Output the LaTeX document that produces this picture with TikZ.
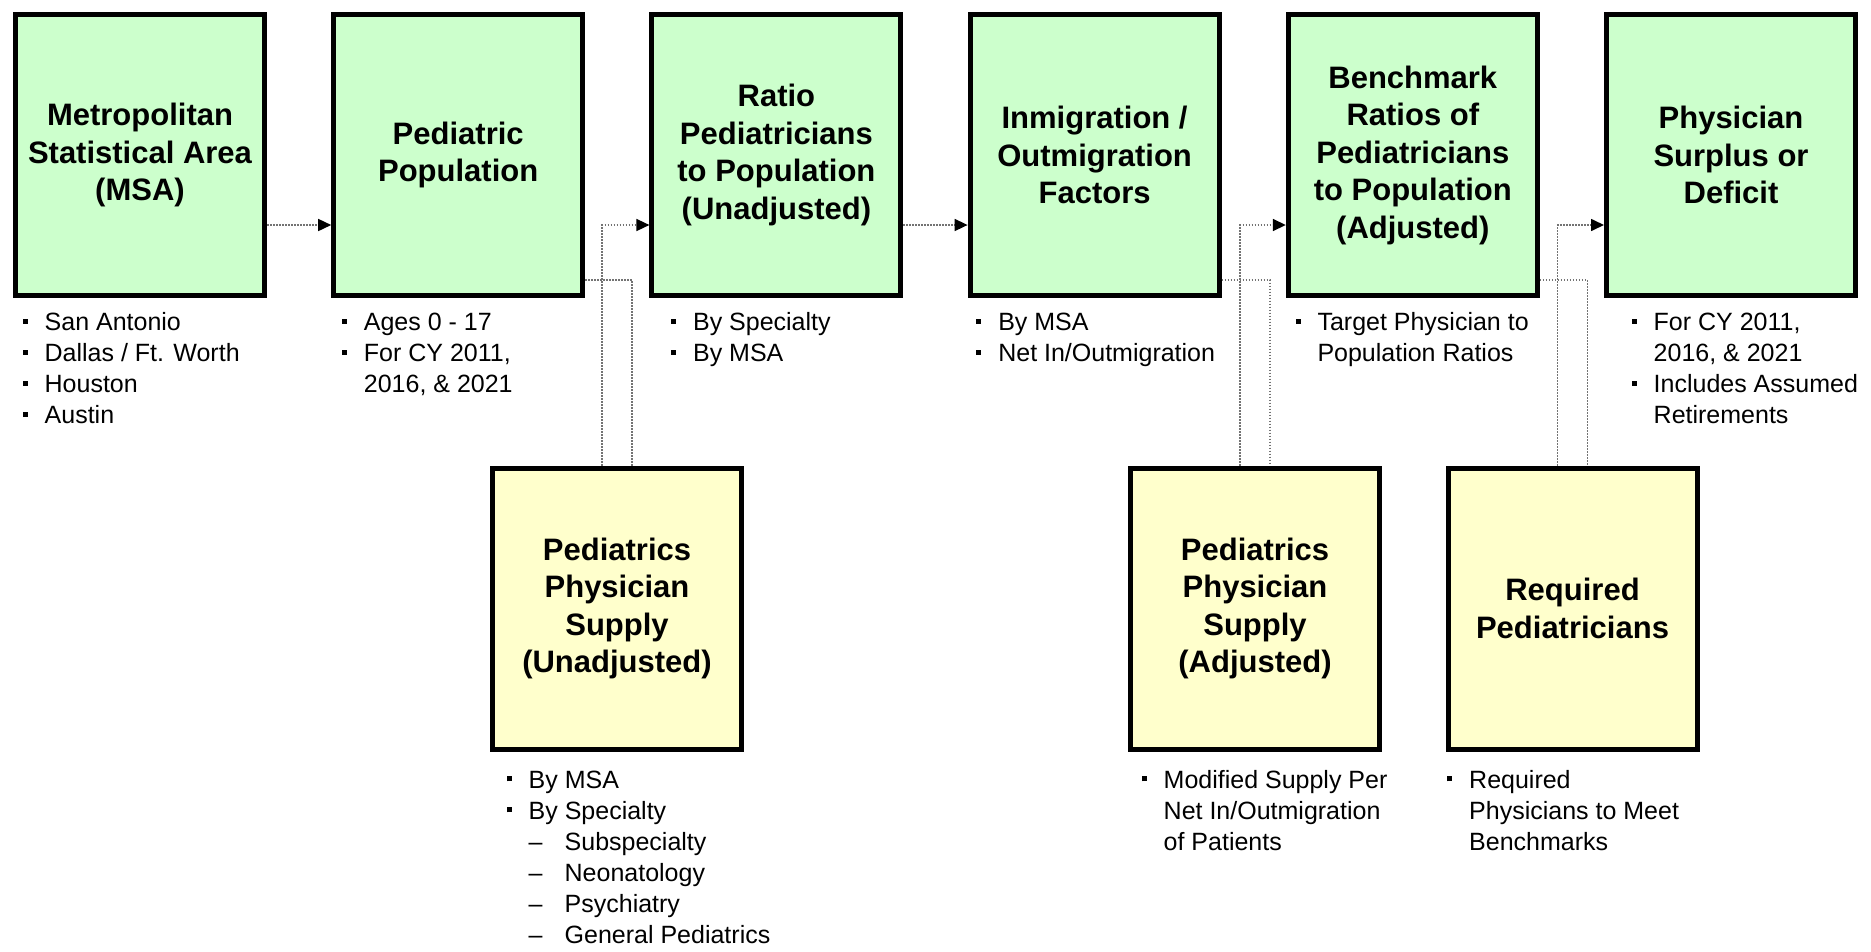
\documentclass[tikz,border=0pt]{standalone}
\usepackage{fontspec}
\setmainfont{Liberation Sans}
\usetikzlibrary{positioning,arrows.meta}
\definecolor{boxgreen}{HTML}{CCFFCC}
\definecolor{boxyellow}{HTML}{FFFFCC}
\newcommand{\bulitem}{\makebox[22pt][l]{\rule[7pt]{5pt}{5pt}}}
\newcommand{\bulcont}{\hspace*{22pt}}
\newcommand{\bulsub}{\bulcont\makebox[36pt][l]{--}}

\begin{document}
\begin{tikzpicture}[
		x=1pt, y=-1pt,
		gbox/.style={draw, line width=5pt, fill=boxgreen, minimum width=249pt, minimum height=281pt,
			inner sep=0pt, align=center, font=\fontsize{31}{37.5}\selectfont\bfseries},
		ybox/.style={gbox, fill=boxyellow},
		blist/.style={anchor=north west, inner sep=0pt, align=left, font=\fontsize{25}{31}\selectfont},
		link/.style={draw=black!55, line width=1.6pt, dash pattern=on 1.6pt off 1.4pt},
		flow/.style={link, -{Triangle[length=13pt, width=12pt, color=black]}}
		]
		\useasboundingbox[fill=white] (0,0) rectangle (1871,951);
		\coordinate (hi) at (0,225);
		\coordinate (lo) at (0,280);
		
		\node[gbox] (msa) at (140,155) {Metropolitan\\Statistical Area\\(MSA)};
		\node[gbox, right=64.2pt of msa] (pop) {Pediatric\\Population};
		\node[gbox, right=64.2pt of pop] (ratio) {Ratio\\Pediatricians\\to Population\\(Unadjusted)};
		\node[gbox, right=64.2pt of ratio] (inmig) {Inmigration /\\Outmigration\\Factors};
		\node[gbox, right=64.2pt of inmig] (bench) {Benchmark\\Ratios of\\Pediatricians\\to Population\\(Adjusted)};
		\node[gbox, right=64.2pt of bench] (surplus) {Physician\\Surplus or\\Deficit};
		
		\node[ybox] (supunadj) at (617,608.5) {Pediatrics\\Physician\\Supply\\(Unadjusted)};
		\node[ybox] (supadj) at (1255,608.5) {Pediatrics\\Physician\\Supply\\(Adjusted)};
		\node[ybox] (required) at (1572.5,608.5) {Required\\Pediatricians};
		
		\node[blist] (msa-l) at ([xshift=9.5pt, yshift=-11pt]msa.south west)
			{\strut\bulitem San Antonio\\\bulitem Dallas / Ft. Worth\\\bulitem Houston\\\bulitem Austin};
		\node[blist] (pop-l) at ([xshift=10.5pt, yshift=-11pt]pop.south west)
			{\strut\bulitem Ages 0 - 17\\\bulitem For CY 2011,\\\bulcont 2016, \& 2021};
		\node[blist] (ratio-l) at ([xshift=21.5pt, yshift=-11pt]ratio.south west)
			{\strut\bulitem By Specialty\\\bulitem By MSA};
		\node[blist] (inmig-l) at ([xshift=8.5pt, yshift=-11pt]inmig.south west)
			{\strut\bulitem By MSA\\\bulitem Net In/Outmigration};
		\node[blist] (bench-l) at ([xshift=9.5pt, yshift=-11pt]bench.south west)
			{\strut\bulitem Target Physician to\\\bulcont Population Ratios};
		\node[blist] (surplus-l) at ([xshift=27.5pt, yshift=-11pt]surplus.south west)
			{\strut\bulitem For CY 2011,\\\bulcont 2016, \& 2021\\\bulitem Includes Assumed\\\bulcont Retirements};
		\node[blist] (supunadj-l) at ([xshift=16.5pt, yshift=-15pt]supunadj.south west)
			{\strut\bulitem By MSA\\\bulitem By Specialty\\\bulsub Subspecialty\\\bulsub Neonatology\\\bulsub Psychiatry\\\bulsub General Pediatrics};
		\node[blist] (supadj-l) at ([xshift=13.5pt, yshift=-15pt]supadj.south west)
			{\strut\bulitem Modified Supply Per\\\bulcont Net In/Outmigration\\\bulcont of Patients};
		\node[blist] (required-l) at ([xshift=1.5pt, yshift=-15pt]required.south west)
			{\strut\bulitem Required\\\bulcont Physicians to Meet\\\bulcont Benchmarks};
		
		\draw[flow] (msa.east |- hi) -- (pop.west |- hi);
		\draw[link] (pop.east |- lo) -| ([xshift=15pt]supunadj.north);
		\draw[flow] ([xshift=-15pt]supunadj.north) |- (ratio.west |- hi);
		\draw[flow] (ratio.east |- hi) -- (inmig.west |- hi);
		\draw[link] (inmig.east |- lo) -| ([xshift=15pt]supadj.north);
		\draw[flow] ([xshift=-15pt]supadj.north) |- (bench.west |- hi);
		\draw[link] (bench.east |- lo) -| ([xshift=15pt]required.north);
		\draw[flow] ([xshift=-15pt]required.north) |- (surplus.west |- hi);
\end{tikzpicture}
\end{document}
